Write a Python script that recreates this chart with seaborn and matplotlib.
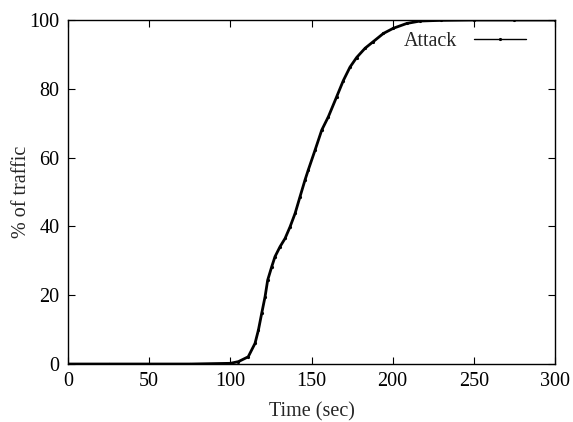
import pandas as pd
import seaborn as sns
import matplotlib.pyplot as plt

# values (time in sec, cumulative % of traffic)
time_sec = [0, 25, 50, 75, 100, 105, 111, 115.2, 117.3, 119.3, 121.4, 123,
            125.5, 127.5, 130.6, 133.7, 136.8, 139.9, 142.9, 146, 148, 152.2,
            156.3, 160.4, 165.5, 169.6, 173.7, 177.8, 183, 188, 194.3, 200.4,
            208.7, 216.9, 230, 250, 275, 300]
pct_traffic = [0, 0, 0, 0, 0.2, 0.7, 2.1, 6, 9.9, 14.7, 19.6, 24.4,
               28.3, 31.2, 34.1, 36.5, 39.9, 43.8, 48.6, 53.5, 56.4, 62.2,
               68, 71.9, 77.7, 82.4, 86.3, 89.1, 91.8, 93.7, 96.1, 97.6,
               99, 99.7, 99.9, 100, 100, 100]
series_name = "Attack"

df = pd.DataFrame({"time": time_sec, "pct": pct_traffic, "series": series_name})

sns.set_theme(style="ticks")
plt.rcParams['font.family'] = ['Liberation Serif', 'DejaVu Serif']

fig = plt.figure(figsize=(5.73, 4.22), dpi=100)
ax = fig.add_axes([0.1187, 0.1374, 0.8499, 0.8152])

sns.lineplot(data=df, x="time", y="pct", hue="series", palette=["black"],
             linewidth=2, marker=".", markersize=3, markeredgecolor="black",
             ax=ax)

ax.set_xlim(0, 300)
ax.set_ylim(0, 100)
ax.set_xticks([0, 50, 100, 150, 200, 250, 300])
ax.set_yticks([0, 20, 40, 60, 80, 100])
ax.tick_params(direction="in", top=True, right=True, length=5, width=0.8,
               labelsize=14.5, colors="black", pad=6)
for s in ax.spines.values():
    s.set_color("black")
    s.set_linewidth(1)

ax.set_xlabel("Time (sec)", fontsize=14.5, labelpad=8)
ax.set_ylabel("% of traffic", fontsize=14.5, labelpad=-1)

leg = ax.legend(loc="upper right", bbox_to_anchor=(0.965, 1.0), frameon=False,
                fontsize=14.5, handlelength=2.6, markerfirst=False,
                borderaxespad=0.2)
for h in leg.legend_handles:
    h.set_linewidth(1)
    h.set_markeredgecolor("black")

plt.savefig("out.png", dpi=100)
